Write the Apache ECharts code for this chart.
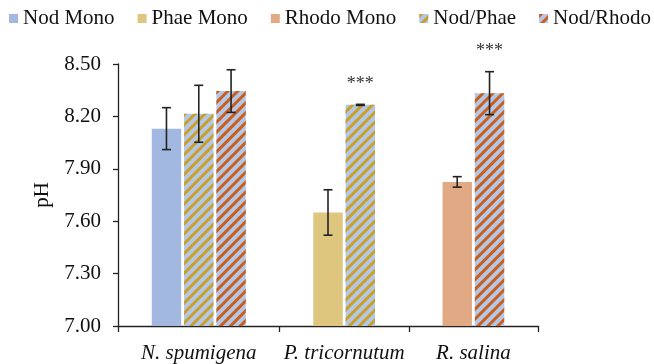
<!DOCTYPE html>
<html>
<head>
<meta charset="utf-8">
<script src="https://cdn.jsdelivr.net/npm/echarts@6/dist/echarts.min.js"></script>
<style>html,body{margin:0;padding:0;background:#fff}#c{width:654px;height:364px}</style>
</head>
<body>
<div id="c"></div>
<script>
// ---- data ----
const categories = ['N. spumigena', 'P. tricornutum', 'R. salina'];
const seriesNames = ['Nod Mono', 'Phae Mono', 'Rhodo Mono', 'Nod/Phae', 'Nod/Rhodo'];
const nodMono   = [8.13, null, null];
const phaeMono  = [null, 7.65, null];
const rhodoMono = [null, null, 7.825];
const nodPhae   = [8.215, 8.266, null];
const nodRhodo  = [8.345, null, 8.333];
const nodMonoErr   = [0.12, null, null];
const phaeMonoErr  = [null, 0.13, null];
const rhodoMonoErr = [null, null, 0.03];
const nodPhaeErr   = [0.163, 0.003, null];
const nodRhodoErr  = [0.122, null, 0.123];
const nodMonoSig   = ['', '', ''];
const phaeMonoSig  = ['', '', ''];
const rhodoMonoSig = ['', '', ''];
const nodPhaeSig   = ['', '***', ''];
const nodRhodoSig  = ['', '', '***'];
const yTicks = [7.00, 7.30, 7.60, 7.90, 8.20, 8.50];

// ---- build slot layout (one slot per bar, one empty slot at each side of a group) ----
const values = [nodMono, phaeMono, rhodoMono, nodPhae, nodRhodo];
const errs = [nodMonoErr, phaeMonoErr, rhodoMonoErr, nodPhaeErr, nodRhodoErr];
const sigs = [nodMonoSig, phaeMonoSig, rhodoMonoSig, nodPhaeSig, nodRhodoSig];
const slotData = values.map(() => []);
const errData = [];
const tickPos = [0];
const labelPos = [];
let slot = 0;
categories.forEach((cat, ci) => {
  const start = slot;
  const add = () => { values.forEach((_, si) => slotData[si].push(null)); };
  add(); slot++; // leading empty slot
  values.forEach((arr, si) => {
    if (arr[ci] != null) {
      add();
      slotData[si][slot] = arr[ci];
      errData.push([slot, arr[ci], errs[si][ci] || 0, sigs[si][ci] || '']);
      slot++;
    }
  });
  add(); slot++; // trailing empty slot
  tickPos.push(slot);
  labelPos.push((start + slot) / 2);
});
const slotNames = slotData[0].map((_, i) => 's' + i);

const font = "'Liberation Serif','Times New Roman',serif";
const styles = {
  'Nod Mono':   { color: '#a3b8e1' },
  'Phae Mono':  { color: '#dfc67f' },
  'Rhodo Mono': { color: '#e2aa84' },
  'Nod/Phae':   { color: '#b4c7e7', decal: { symbol: 'rect', symbolSize: 1, dashArrayX: [1, 0], dashArrayY: [3, 4], rotation: -Math.PI / 4, color: '#c9a02a' } },
  'Nod/Rhodo':  { color: '#b4c7e7', decal: { symbol: 'rect', symbolSize: 1, dashArrayX: [1, 0], dashArrayY: [3, 4], rotation: -Math.PI / 4, color: '#c95f1c' } }
};

const barSeries = seriesNames.map((name, si) => ({
  name: name,
  type: 'bar',
  xAxisIndex: 0,
  yAxisIndex: 0,
  data: slotData[si],
  barWidth: '91%',
  barGap: '-100%',
  itemStyle: styles[name]
}));

const errSeries = {
  type: 'custom',
  name: 'err',
  xAxisIndex: 0,
  yAxisIndex: 0,
  data: errData,
  z: 10,
  renderItem: function (params, api) {
    const x = api.value(0), v = api.value(1), e = api.value(2);
    const sig = errData[params.dataIndex][3];
    const top = api.coord([x, v + e]);
    const bot = api.coord([x, v - e]);
    const w = 4.5;
    const st = { stroke: '#222', lineWidth: 1.6 };
    const children = [
      { type: 'line', shape: { x1: top[0], y1: top[1], x2: bot[0], y2: bot[1] }, style: st },
      { type: 'line', shape: { x1: top[0] - w, y1: top[1], x2: top[0] + w, y2: top[1] }, style: st },
      { type: 'line', shape: { x1: bot[0] - w, y1: bot[1], x2: bot[0] + w, y2: bot[1] }, style: st }
    ];
    if (sig) {
      children.push({ type: 'text', style: { text: sig, x: top[0], y: top[1] - 11, align: 'center', verticalAlign: 'bottom', font: '18px ' + font, fill: '#333' } });
    }
    return { type: 'group', children: children };
  }
};

const chart = echarts.init(document.getElementById('c'), null, { renderer: 'canvas' });
chart.setOption({
  animation: false,
  backgroundColor: '#fff',
  legend: {
    data: seriesNames,
    left: 9,
    top: 8,
    width: 645,
    padding: 0,
    itemWidth: 9,
    itemHeight: 9,
    itemGap: 23,
    icon: 'rect',
    textStyle: { fontFamily: font, fontSize: 21, color: '#111' }
  },
  grid: { left: 118, right: 116, top: 64, bottom: 37, containLabel: false },
  xAxis: [
    { type: 'category', data: slotNames, show: false, boundaryGap: true },
    {
      type: 'value', min: 0, max: tickPos[tickPos.length - 1], position: 'bottom',
      axisLine: { show: true, lineStyle: { color: '#222', width: 1.3 } },
      axisTick: { show: true, length: 6, inside: false, lineStyle: { color: '#222', width: 1.3 }, customValues: tickPos },
      axisLabel: {
        customValues: labelPos,
        margin: 17,
        fontFamily: font, fontSize: 21, fontStyle: 'italic', color: '#111',
        formatter: function (v) { const i = labelPos.indexOf(v); return i >= 0 ? categories[i] : ''; }
      },
      splitLine: { show: false }
    }
  ],
  yAxis: {
    type: 'value',
    min: yTicks[0], max: yTicks[yTicks.length - 1], interval: 0.3,
    name: 'pH', nameLocation: 'middle', nameGap: 60, nameRotate: 90,
    nameTextStyle: { fontFamily: font, fontSize: 21, color: '#111' },
    axisLine: { show: true, lineStyle: { color: '#222', width: 1.3 } },
    axisTick: { show: true, inside: false, length: 5, lineStyle: { color: '#222', width: 1.3 } },
    axisLabel: { margin: 17, fontFamily: font, fontSize: 21, color: '#111', formatter: v => v.toFixed(2) },
    splitLine: { show: false }
  },
  series: barSeries.concat([errSeries])
});
</script>
</body>
</html>
